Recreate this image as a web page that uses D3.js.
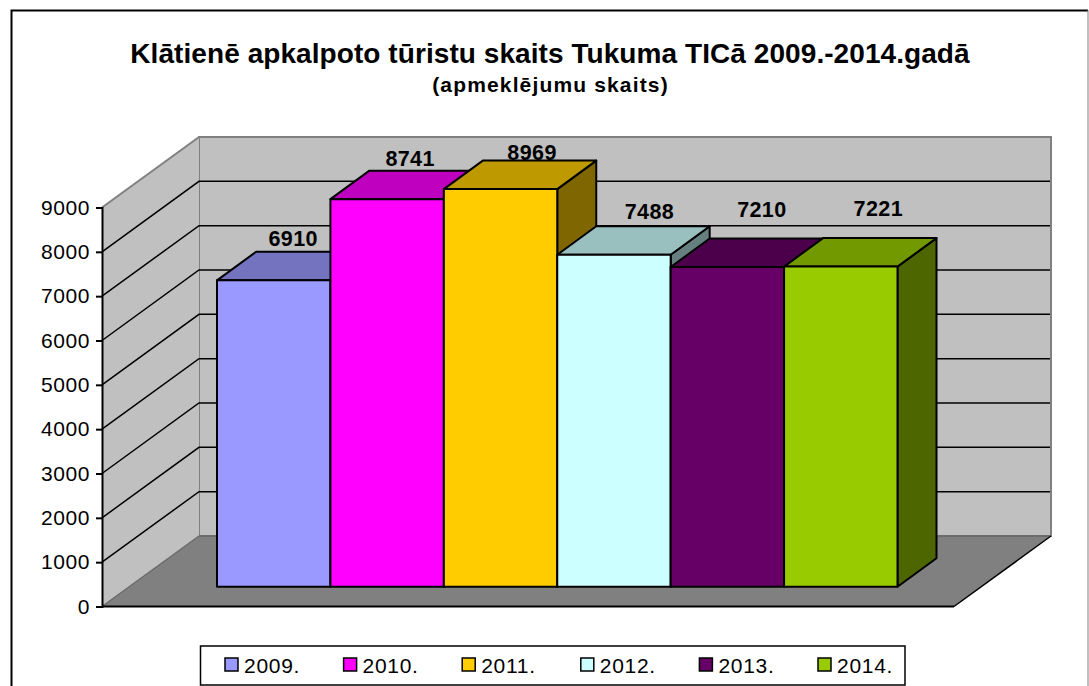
<!DOCTYPE html>
<html><head><meta charset="utf-8">
<script src="https://cdn.jsdelivr.net/npm/d3@7"></script>
<style>
html,body{margin:0;padding:0;background:#fff;overflow:hidden}
svg{display:block}
text{font-family:"Liberation Sans",Arial,sans-serif;fill:#000}
</style></head><body>
<script>
const years = ["2009.","2010.","2011.","2012.","2013.","2014."];
const values = [6910,8741,8969,7488,7210,7221];
const frontColors = ["#9999FF","#FF00FF","#FFCC00","#CCFFFF","#660066","#99CC00"];
const topColors = ["#7373BF","#BF00BF","#BF9900","#99BFBF","#4C004C","#739900"];
const sideColors = ["#4D4D80","#800080","#806600","#668080","#330033","#4D6600"];
const yTicks = [0,1000,2000,3000,4000,5000,6000,7000,8000,9000];
const titleText = "Klātienē apkalpoto tūristu skaits Tukuma TICā 2009.-2014.gadā";
const subtitleText = "(apmeklējumu skaits)";
// manual label placement in the original, relative to the bar's top-back edge
const labelDx = [0,3.5,12,16,15,18];
const labelDy = [-6,-5,-1,-7,-22,-22];

const W=1089,H=686;
const svg=d3.select("body").append("svg").attr("width",W).attr("height",H);
const y=d3.scaleLinear().domain([0,9000]).range([606.5,207.5]);
const x=d3.scaleBand().domain(years).range([217,897.5]);
const floorW=852, wallDx=97, wallDy=-70.5;
const barBase=586.7, barDx=39, barDy=-28.5;
const h=v=>y(0)-y(v);
const poly=p=>p.map(q=>q.join(",")).join(" ");

// frame
svg.append("path").attr("d",`M11.5 ${H}V10.5H1088`).attr("fill","none").attr("stroke","#000").attr("stroke-width",2);
svg.append("line").attr("x1",1088).attr("x2",1088).attr("y1",10).attr("y2",H).attr("stroke","#808080").attr("stroke-width",1);

// titles
svg.append("text").attr("x",550).attr("y",63).attr("text-anchor","middle").attr("font-weight","bold").attr("font-size",28).attr("letter-spacing",0.07).text(titleText);
svg.append("text").attr("x",550.5).attr("y",92).attr("text-anchor","middle").attr("font-weight","bold").attr("font-size",21).attr("letter-spacing",1.15).text(subtitleText);

// walls and floor
const x0=102,x1=x0+wallDx,xr=x0+floorW+wallDx;
svg.append("rect").attr("x",x1).attr("y",y(9000)+wallDy).attr("width",floorW).attr("height",h(9000))
  .attr("fill","#C0C0C0").attr("stroke","#808080").attr("stroke-width",2);
svg.append("polygon").attr("points",poly([[x0,y(9000)],[x1,y(9000)+wallDy],[x1,y(0)+wallDy],[x0,y(0)]]))
  .attr("fill","#C0C0C0");
svg.append("line").attr("x1",x0).attr("y1",y(9000)).attr("x2",x1).attr("y2",y(9000)+wallDy).attr("stroke","#808080").attr("stroke-width",2);
svg.append("polygon").attr("points",poly([[x0,y(0)],[x1,y(0)+wallDy],[xr,y(0)+wallDy],[x0+floorW,y(0)]]))
  .attr("fill","#808080");
svg.append("line").attr("x1",x0).attr("y1",y(0)).attr("x2",x1).attr("y2",y(0)+wallDy).attr("stroke","#6a6a6a").attr("stroke-width",1.5);
svg.append("line").attr("x1",x1).attr("y1",y(0)+wallDy).attr("x2",xr).attr("y2",y(0)+wallDy).attr("stroke","#666").attr("stroke-width",1.5);
svg.append("line").attr("x1",xr).attr("y1",y(0)+wallDy).attr("x2",x0+floorW).attr("y2",y(0)).attr("stroke","#000").attr("stroke-width",1.5);
svg.append("line").attr("x1",x0).attr("y1",y(0)).attr("x2",x0+floorW).attr("y2",y(0)).attr("stroke","#000").attr("stroke-width",2);

// gridlines
const gridTicks=yTicks.filter(t=>t>0&&t<9000);
svg.append("g").selectAll("path").data(gridTicks).join("path")
  .attr("d",t=>`M${x0} ${y(t)}L${x1} ${y(t)+wallDy}H${xr-1}`)
  .attr("fill","none").attr("stroke","#000").attr("stroke-width",1.5);

// axis
const ax=svg.append("g").attr("transform",`translate(${x0},0)`)
  .call(d3.axisLeft(y).tickValues(yTicks).tickFormat(d3.format("d")).tickSize(6).tickPadding(6));
ax.selectAll("path,line").attr("stroke","#000").attr("stroke-width",2);
ax.selectAll("text").attr("font-size",21).attr("letter-spacing",0.6).attr("fill","#000")
  .style("font-family",'"Liberation Sans",Arial,sans-serif');

// bars
const bw=x.bandwidth();
const bars=svg.append("g").selectAll("g").data(years).join("g");
const st=g=>g.attr("stroke","#000").attr("stroke-width",2).attr("stroke-linejoin","round");
bars.append("polygon").attr("points",(d,i)=>{const l=x(d)+bw,t=barBase-h(values[i]);
  return poly([[l,t],[l+barDx,t+barDy],[l+barDx,barBase+barDy],[l,barBase]]);}).attr("fill",(d,i)=>sideColors[i]).call(st);
bars.append("polygon").attr("points",(d,i)=>{const l=x(d),t=barBase-h(values[i]);
  return poly([[l,t],[l+barDx,t+barDy],[l+bw+barDx,t+barDy],[l+bw,t]]);}).attr("fill",(d,i)=>topColors[i]).call(st);
bars.append("rect").attr("x",d=>x(d)).attr("width",bw)
  .attr("y",(d,i)=>barBase-h(values[i])).attr("height",(d,i)=>h(values[i]))
  .attr("fill",(d,i)=>frontColors[i]).call(st);

// value labels
svg.append("g").selectAll("text").data(years).join("text")
  .attr("x",(d,i)=>x(d)+bw/2+barDx/2+labelDx[i])
  .attr("y",(d,i)=>barBase-h(values[i])+barDy+labelDy[i])
  .attr("text-anchor","middle").attr("font-weight","bold").attr("font-size",21.5).attr("letter-spacing",0.4)
  .text((d,i)=>values[i]);

// legend
svg.append("rect").attr("x",200.5).attr("y",646).attr("width",704.5).attr("height",39)
  .attr("fill","#fff").attr("stroke","#000").attr("stroke-width",1.5);
const lx=d3.scalePoint().domain(years).range([225,818]);
const leg=svg.append("g").selectAll("g").data(years).join("g").attr("transform",d=>`translate(${lx(d)},0)`);
leg.append("rect").attr("y",658).attr("width",13).attr("height",13)
  .attr("fill",(d,i)=>frontColors[i]).attr("stroke","#000").attr("stroke-width",1.5);
leg.append("text").attr("x",19).attr("y",672.5).attr("font-size",21).attr("letter-spacing",0.7).text(d=>d);
</script>
</body></html>
